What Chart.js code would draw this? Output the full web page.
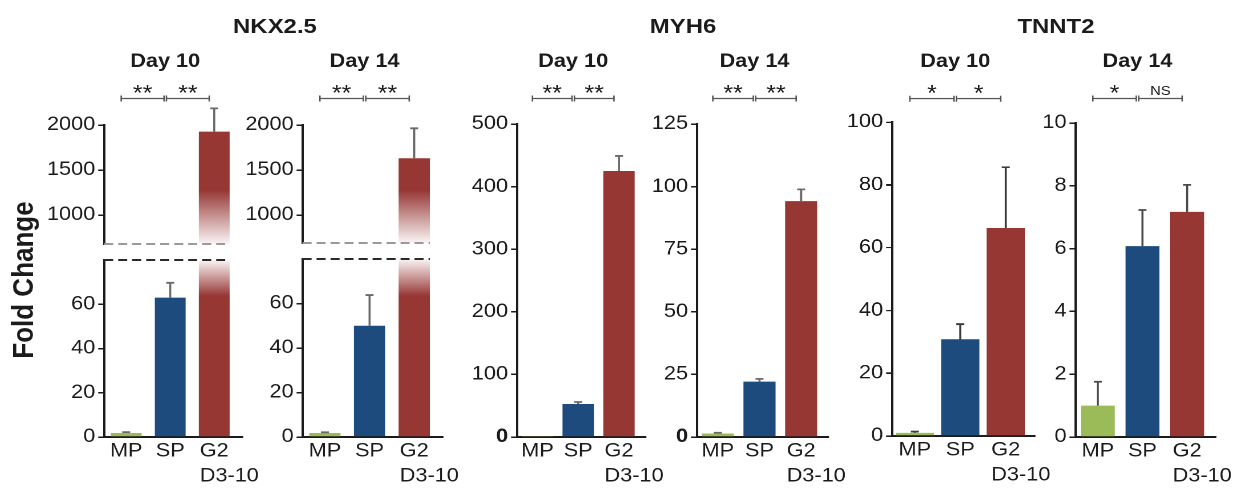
<!DOCTYPE html>
<html lang="en">
<head>
<meta charset="utf-8">
<title>Fold change of cardiac markers</title>
<script src="https://cdn.jsdelivr.net/npm/chart.js@4.4.1/dist/chart.umd.min.js"></script>
<style>
  html, body { margin: 0; padding: 0; background: #fff; }
  body { width: 1242px; height: 489px; overflow: hidden; position: relative; }
  #fig { position: absolute; left: 0; top: 0; height: 489px; transform-origin: 0 0;
         font-family: 'Liberation Sans', Arial, Helvetica, sans-serif; color: #1b1b1b; }
  .panel { position: absolute; }
  .gene { position: absolute; top: 15px; font-size: 21px; line-height: 21px; font-weight: bold;
          white-space: nowrap; transform: translateX(-50%); }
  .ytitle { position: absolute; font-size: 26px; line-height: 26px; font-weight: bold; white-space: nowrap;
            transform: translate(-50%, -50%) rotate(-90deg); }
</style>
</head>
<body>
<div id="fig"></div>
<script>
// ---- data -------------------------------------------------------------
const categories = ['MP', 'SP', 'G2'];
const categorySub = 'D3-10';
const genes = ['NKX2.5', 'MYH6', 'TNNT2'];
const days = ['Day 10', 'Day 14'];

// mean fold change and SD (MP, SP, G2 D3-10)
const nkxDay10 = [1.8, 63.0, 1926];
const nkxDay10Err = [0.4, 6.7, 259];
const nkxDay14 = [1.8, 50.0, 1630];
const nkxDay14Err = [0.3, 13.8, 333];
const myhDay10 = [0.8, 52.7, 425];
const myhDay10Err = [0, 3.2, 24];
const myhDay14 = [1.4, 22.1, 94.2];
const myhDay14Err = [0.3, 1.1, 4.7];
const tnnDay10 = [1.0, 30.8, 66.2];
const tnnDay10Err = [0.4, 4.8, 19.4];
const tnnDay14 = [1.0, 6.08, 7.17];
const tnnDay14Err = [0.76, 1.15, 0.86];

// significance of MP vs SP and SP vs G2
const nkxDay10Marks = ['**', '**'];
const nkxDay14Marks = ['**', '**'];
const myhDay10Marks = ['**', '**'];
const myhDay14Marks = ['**', '**'];
const tnnDay10Marks = ['*', '*'];
const tnnDay14Marks = ['*', 'NS'];

// y-axis ticks
const nkxUpperTicks = [1000, 1500, 2000];
const nkxLowerTicks = [0, 20, 40, 60];
const myhDay10Ticks = [0, 100, 200, 300, 400, 500];
const myhDay14Ticks = [0, 25, 50, 75, 100, 125];
const tnnDay10Ticks = [0, 20, 40, 60, 80, 100];
const tnnDay14Ticks = [0, 2, 4, 6, 8, 10];

// ---- style ------------------------------------------------------------
const SX = 1.14;                      // the figure is laid out narrow, then widened
const px = v => v / SX;               // figure x-units -> layout units
const FONT = "'Liberation Sans', Arial, Helvetica, sans-serif";
const INK = '#1b1b1b';
const COLORS = ['#9bbb59', '#1d4b7d', '#963734'];
const FADE = 'rgba(150,55,52,0.05)';
const TICK_SIZE = 19;
const X_PAD = 2;
const X_LINE = 25;
const X_AXIS_H = 52;
const WY = px(70);
const PADR = 32;
const GROUP_SHIFT = -5;

Chart.defaults.font.family = FONT;
Chart.defaults.color = INK;

const fig = document.getElementById('fig');
fig.style.width = (1242 / SX) + 'px';
fig.style.transform = `scaleX(${SX})`;

// headings
[[genes[0], 275], [genes[1], 683], [genes[2], 1056]].forEach(([t, cx]) => {
  const d = document.createElement('div');
  d.className = 'gene'; d.textContent = t; d.style.left = px(cx) + 'px';
  fig.appendChild(d);
});
const yt = document.createElement('div');
yt.className = 'ytitle'; yt.textContent = 'Fold Change';
yt.style.left = px(23) + 'px'; yt.style.top = '280px';
fig.appendChild(yt);

// ---- panel layout -------------------------------------------------------
const panels = [
  { L: 104, R: 236, T: 125, B: 244, top: 0, min: 678, max: 2000, ticks: nkxUpperTicks,
    values: nkxDay10, errors: nkxDay10Err, showX: false, fade: 'down', fadeAt: 190,
    breakAt: 'bottom', breakColor: '#9a9a9a', barPct: 0.70, errColor: '#6a6a6a',
    day: days[0], marks: nkxDay10Marks },
  { L: 104, R: 236, T: 260, B: 437, top: 240, min: 0, max: 80, ticks: nkxLowerTicks,
    values: nkxDay10, errors: nkxDay10Err, showX: true, fade: 'up', fadeAt: 296,
    breakAt: 'top', breakColor: '#2a2a2a', barPct: 0.70, errColor: '#6a6a6a' },
  { L: 302, R: 436, T: 125, B: 243, top: 0, min: 689, max: 2000, ticks: nkxUpperTicks,
    values: nkxDay14, errors: nkxDay14Err, showX: false, fade: 'down', fadeAt: 190,
    breakAt: 'bottom', breakColor: '#9a9a9a', barPct: 0.70, errColor: '#6a6a6a',
    day: days[1], marks: nkxDay14Marks },
  { L: 302, R: 436, T: 259, B: 437, top: 240, min: 0, max: 80, ticks: nkxLowerTicks,
    values: nkxDay14, errors: nkxDay14Err, showX: true, fade: 'up', fadeAt: 296,
    breakAt: 'top', breakColor: '#2a2a2a', barPct: 0.70, errColor: '#6a6a6a' },
  { L: 517, R: 639, T: 124, B: 437, top: 0, min: 0, max: 500, ticks: myhDay10Ticks,
    values: myhDay10, errors: myhDay10Err, showX: true, barPct: 0.77, errColor: '#6a6a6a',
    boldZero: true, day: days[0], marks: myhDay10Marks },
  { L: 697, R: 822, T: 124, B: 437, top: 0, min: 0, max: 125, ticks: myhDay14Ticks,
    values: myhDay14, errors: myhDay14Err, showX: true, barPct: 0.77, errColor: '#6a6a6a',
    boldZero: true, day: days[1], marks: myhDay14Marks },
  { L: 892, R: 1028, T: 122, B: 435.5, top: 0, min: 0, max: 100, ticks: tnnDay10Ticks,
    values: tnnDay10, errors: tnnDay10Err, showX: true, barPct: 0.84, errColor: '#3a3a3a',
    day: days[0], marks: tnnDay10Marks },
  { L: 1076, R: 1210, T: 123, B: 437, top: 0, min: 0, max: 10, ticks: tnnDay14Ticks,
    values: tnnDay14, errors: tnnDay14Err, showX: true, barPct: 0.76, errColor: '#4a4a4a',
    day: days[1], marks: tnnDay14Marks },
];

// error bars, axis breaks, bracket annotations and the two-line G2 label
function makeDecor(o) {
  return {
    id: 'decor',
    afterDatasetsDraw(chart) {
      const { ctx, chartArea: ca, scales: { y } } = chart;
      const bars = chart.getDatasetMeta(0).data;
      ctx.save();
      ctx.strokeStyle = o.errColor;
      ctx.lineWidth = 1.8;
      bars.forEach((bar, i) => {
        const v = o.values[i], e = o.errors[i];
        if (!e || v < y.min || v > y.max) return;
        const yb = y.getPixelForValue(v), ytop = y.getPixelForValue(v + e);
        ctx.beginPath();
        ctx.moveTo(bar.x, yb); ctx.lineTo(bar.x, ytop);
        ctx.moveTo(bar.x - px(4), ytop); ctx.lineTo(bar.x + px(4), ytop);
        ctx.stroke();
      });
      if (o.breakAt) {
        const g2 = bars[2];
        const yy = o.breakAt === 'bottom' ? ca.bottom : ca.top;
        ctx.setLineDash([px(9), px(5)]);
        ctx.strokeStyle = o.breakColor;
        ctx.lineWidth = 2;
        ctx.beginPath();
        ctx.moveTo(ca.left, yy); ctx.lineTo(g2.x + g2.width / 2, yy);
        ctx.stroke();
      }
      ctx.restore();
    },
    afterDraw(chart) {
      const { ctx, chartArea: ca, scales: { x } } = chart;
      ctx.save();
      if (o.showX) {
        ctx.strokeStyle = INK; ctx.lineWidth = 2;
        ctx.beginPath();
        ctx.moveTo(ca.right - 1, ca.bottom); ctx.lineTo(ca.right + px(7), ca.bottom);
        ctx.stroke();
        ctx.font = `${TICK_SIZE}px ${FONT}`;
        ctx.fillStyle = INK; ctx.textAlign = 'left'; ctx.textBaseline = 'middle';
        const gx = x.getPixelForValue(2) - ctx.measureText(categories[2]).width / 2;
        ctx.fillText(categorySub, gx, x.top + X_PAD + 1.5 * X_LINE);
      }
      if (o.day) {
        const xs = [0, 1, 2].map(i => x.getPixelForValue(i) + px(GROUP_SHIFT));
        ctx.fillStyle = INK; ctx.textAlign = 'center'; ctx.textBaseline = 'middle';
        ctx.font = `bold 19px ${FONT}`;
        ctx.fillText(o.day, (xs[0] + xs[2]) / 2, 62);
        const by = 98.5, gap = px(1.2), tk = 3;
        ctx.strokeStyle = '#555'; ctx.lineWidth = 1.3;
        [[xs[0], xs[1] - gap], [xs[1] + gap, xs[2]]].forEach(([a, b], k) => {
          ctx.beginPath();
          ctx.moveTo(a, by); ctx.lineTo(b, by);
          ctx.moveTo(a, by - tk); ctx.lineTo(a, by + tk);
          ctx.moveTo(b, by - tk); ctx.lineTo(b, by + tk);
          ctx.stroke();
          const m = o.marks[k];
          ctx.textBaseline = 'alphabetic';
          if (m.startsWith('*')) {
            ctx.font = `22px ${FONT}`;
            ctx.fillText(m, (a + b) / 2, 100.5);
          } else {
            ctx.font = `13px ${FONT}`;
            ctx.fillText(m, (a + b) / 2, 95);
          }
        });
      }
      ctx.restore();
    }
  };
}

function makePanel(o) {
  const padBottom = o.showX ? 0 : 16;
  const bottom = o.showX ? o.B + X_AXIS_H : o.B + padBottom;
  const box = document.createElement('div');
  box.className = 'panel';
  box.style.left = (px(o.L) - WY) + 'px';
  box.style.top = o.top + 'px';
  box.style.width = (WY + px(o.R - o.L) + px(PADR)) + 'px';
  box.style.height = (bottom - o.top) + 'px';
  const cv = document.createElement('canvas');
  box.appendChild(cv);
  fig.appendChild(box);

  const barColor = (c) => {
    const i = c.dataIndex;
    if (i !== 2 || !o.fade) return COLORS[i];
    const ca = c.chart.chartArea;
    if (!ca) return COLORS[i];
    const g = c.chart.ctx.createLinearGradient(0, ca.top, 0, ca.bottom);
    const f = Math.min(Math.max((o.fadeAt - o.T) / (o.B - o.T), 0), 1);
    if (o.fade === 'down') {
      g.addColorStop(0, COLORS[2]); g.addColorStop(f, COLORS[2]); g.addColorStop(1, FADE);
    } else {
      g.addColorStop(0, FADE); g.addColorStop(f, COLORS[2]); g.addColorStop(1, COLORS[2]);
    }
    return g;
  };

  new Chart(cv, {
    type: 'bar',
    data: {
      labels: categories,
      datasets: [{ data: o.values, backgroundColor: barColor, borderWidth: 0,
                   barPercentage: o.barPct, categoryPercentage: 1 }]
    },
    options: {
      responsive: true, maintainAspectRatio: false, animation: false, events: [],
      devicePixelRatio: 2,
      layout: { padding: { top: o.T - o.top, bottom: padBottom, left: 0, right: px(PADR) } },
      plugins: { legend: { display: false }, tooltip: { enabled: false }, title: { display: false } },
      scales: {
        x: {
          display: o.showX, z: 1,
          grid: { display: false, drawTicks: false },
          border: { display: true, color: INK, width: 2 },
          ticks: { padding: X_PAD, color: INK, maxRotation: 0, autoSkip: false,
                   font: { family: FONT, size: TICK_SIZE, lineHeight: X_LINE / TICK_SIZE } },
          afterFit: s => { s.height = o.showX ? X_AXIS_H : 0; }
        },
        y: {
          min: o.min, max: o.max, z: 1,
          grid: { display: true, drawOnChartArea: false, drawTicks: true, tickLength: px(6),
                  color: INK, lineWidth: 1.5 },
          border: { display: true, color: INK, width: 2 },
          ticks: {
            padding: px(3), color: INK,
            callback: v => String(v),
            font: c => ({ family: FONT, size: TICK_SIZE,
                          weight: (o.boldZero && c.tick && c.tick.value === 0) ? 'bold' : 'normal' })
          },
          afterBuildTicks: s => { s.ticks = o.ticks.map(v => ({ value: v })); },
          afterFit: s => { s.width = WY; }
        }
      }
    },
    plugins: [makeDecor(o)]
  });
}

panels.forEach(makePanel);
</script>
</body>
</html>
